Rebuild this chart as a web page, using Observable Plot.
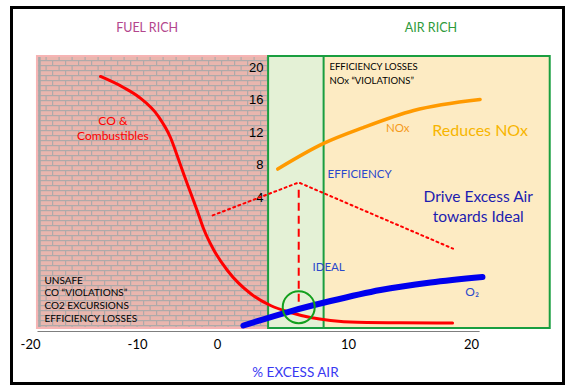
<!DOCTYPE html>
<html>
<head>
<meta charset="utf-8">
<script src="https://cdn.jsdelivr.net/npm/d3@7"></script>
<script src="https://cdn.jsdelivr.net/npm/@observablehq/plot@0.6"></script>
<style>
  html, body { margin: 0; padding: 0; background: #fff; }
  #chart svg { display: block; }
</style>
</head>
<body>
<div id="chart"></div>
<script>
// ---- data (x = % excess air, y = chart value units) ----
const xTicks = [-20, -10, 0, 10, 20];
const yTicks = [4, 8, 12, 16, 20];

// zones along % excess air
const zoneFuelRich = [-19.35, 3.9];
const zoneIdeal = [3.9, 8.1];
const zoneAirRich = [8.1, 26.4];

const coX = [-13.46, -11.31, -9.75, -7.38, -5.88, -5.0, -4.25, -3.375, -2.5, -1.75, -0.5, 0.76, 2.52, 4.05, 5.57, 7.1, 8.63, 10.73, 14.23, 18.46];
const coY = [18.89, 17.54, 16.31, 13.97, 11.38, 9.05, 6.95, 4.62, 2.28, 0.18, -2.4, -4.98, -7.82, -9.29, -10.15, -10.77, -11.14, -11.36, -11.42, -11.43];

const o2X = [1.98, 5.57, 8.63, 12.6, 16.67, 20.89];
const o2Y = [-11.75, -10.0, -8.74, -7.38, -6.46, -5.78];

const noxX = [4.6, 8.1, 11.2, 15.3, 20.7];
const noxY = [7.5, 10.65, 12.6, 14.7, 16.05];

const effX = [-0.6, 6.2, 18.5];
const effY = [1.8, 5.85, -2.3];

const idealX = 6.2;
const idealY = [4.9, -9.8];

const co = coX.map((x, i) => ({x, y: coY[i]}));
const o2 = o2X.map((x, i) => ({x, y: o2Y[i]}));
const nox = noxX.map((x, i) => ({x, y: noxY[i]}));
const eff = effX.map((x, i) => ({x, y: effY[i]}));

const font = "Lato, 'Open Sans', sans-serif";

const plot = Plot.plot({
  width: 574,
  height: 390,
  marginLeft: 37,
  marginRight: 24,
  marginTop: 56,
  marginBottom: 62,
  style: {background: "#fff", fontFamily: font},
  x: {type: "linear", domain: xTicks, range: [30, 137, 217, 348, 471], axis: null},
  y: {type: "linear", domain: [-12.12, 21.35], range: [328, 56], axis: null},
  marks: [
    // zones
    Plot.rect([zoneFuelRich], {x1: d => d[0], x2: d => d[1], fill: "url(#brick)", stroke: "#f6b4b4", strokeWidth: 2}),
    Plot.ruleX([zoneFuelRich[0]], {stroke: "#a8a8a8", strokeWidth: 2.5, dx: 2, insetTop: 1, insetBottom: 1}),
    Plot.rect([zoneIdeal], {x1: d => d[0], x2: d => d[1], fill: "#e4f1d6"}),
    Plot.rect([zoneAirRich], {x1: d => d[0], x2: d => d[1], fill: "#fdebc3"}),
    Plot.rect([[zoneIdeal[0], zoneAirRich[1]]], {x1: d => d[0], x2: d => d[1], fill: "none", stroke: "#1a9e40", strokeWidth: 2}),
    Plot.ruleX([zoneIdeal[1]], {stroke: "#1a9e40", strokeWidth: 2}),

    // outer frame
    Plot.frame({stroke: "#000", strokeWidth: 3, insetLeft: -26, insetTop: -49, insetRight: -13, insetBottom: -55}),

    // x axis line + labels
    Plot.ruleY([-12.49], {x1: -19.3, x2: 20.7, stroke: "#7f7f7f", strokeWidth: 1}),
    Plot.text(xTicks, {x: d => d, y: -13.85, text: d => String(d), fontSize: 13, fill: "#000", lineAnchor: "middle", dy: 2}),
    // y tick labels
    Plot.text(yTicks, {x: zoneIdeal[0], y: d => d, text: d => String(d), textAnchor: "end", dx: -5, fontSize: 13, fontFamily: "'Liberation Sans', Arial, sans-serif", fill: "#000"}),

    // curves
    Plot.line(eff, {x: "x", y: "y", stroke: "#ff0000", strokeWidth: 2, strokeDasharray: "2,3.5"}),
    Plot.line(nox, {x: "x", y: "y", stroke: "#ff9a00", strokeWidth: 3.5, curve: "monotone-x"}),
    Plot.ruleX([idealX], {y1: idealY[0], y2: idealY[1], stroke: "#ff0000", strokeWidth: 2, strokeDasharray: "8,5"}),
    Plot.line(co, {x: "x", y: "y", stroke: "#ff0000", strokeWidth: 3, curve: "monotone-x"}),
    Plot.line(o2, {x: "x", y: "y", stroke: "#0000ee", strokeWidth: 6, curve: "monotone-x"}),
    Plot.dot([[idealX, -9.5]], {x: d => d[0], y: d => d[1], r: 16, stroke: "#13a01e", strokeWidth: 2, fill: "none"}),

    // labels
    Plot.text(["FUEL RICH"], {x: -8.8, y: 24.9, fill: "#b3468d", fontSize: 12.5}),
    Plot.text(["AIR RICH"], {x: 16.7, y: 24.9, fill: "#2e9a3a", fontSize: 12.5}),
    Plot.text(["CO &\nCombustibles"], {x: -12.3, y: 12.55, fill: "#ff0000", fontSize: 12, lineHeight: 1.25}),
    Plot.text(["UNSAFE\nCO \u201CVIOLATIONS\u201D\nCO2 EXCURSIONS\nEFFICIENCY LOSSES"], {x: -18.7, y: -8.43, textAnchor: "start", fill: "#000", fontSize: 10, lineHeight: 1.27}),
    Plot.text(["EFFICIENCY LOSSES\nNOx \u201CVIOLATIONS\u201D"], {x: 8.55, y: 19.4, textAnchor: "start", fill: "#000", fontSize: 9.5, lineHeight: 1.45}),
    Plot.text(["NOx"], {x: 14.0, y: 12.5, fill: "#f59a1a", fontSize: 11.5}),
    Plot.text(["Reduces NOx"], {x: 20.7, y: 12.25, fill: "#f7b500", fontSize: 16}),
    Plot.text(["EFFICIENCY"], {x: 8.4, y: 6.83, textAnchor: "start", fill: "#2a48cc", fontSize: 11.5}),
    Plot.text(["Drive Excess Air\ntowards Ideal"], {x: 20.55, y: 3.0, fill: "#1c1cb0", fontSize: 15.5, lineHeight: 1.3}),
    Plot.text(["IDEAL"], {x: 7.25, y: -4.6, textAnchor: "start", fill: "#2a48cc", fontSize: 11.5}),
    Plot.text(["O\u2082"], {x: 19.5, y: -7.7, textAnchor: "start", fill: "#2a48cc", fontSize: 12}),
    Plot.text(["% EXCESS AIR"], {x: 5.95, y: -17.5, fill: "#3838f2", fontSize: 13.5})
  ]
});

// brick pattern for the fuel-rich zone
const ns = "http://www.w3.org/2000/svg";
const defs = document.createElementNS(ns, "defs");
defs.innerHTML = `
  <pattern id="brick" width="13" height="10" patternUnits="userSpaceOnUse">
    <rect width="13" height="10" fill="#e9b6ae"/>
    <rect x="0" y="0" width="13" height="1.2" fill="#aeaaaa"/>
    <rect x="0" y="5" width="13" height="1.2" fill="#aeaaaa"/>
    <rect x="0" y="0" width="1.2" height="5" fill="#aeaaaa"/>
    <rect x="6.5" y="5" width="1.2" height="5" fill="#aeaaaa"/>
  </pattern>`;
plot.insertBefore(defs, plot.firstChild);

document.getElementById("chart").appendChild(plot);
</script>
</body>
</html>
